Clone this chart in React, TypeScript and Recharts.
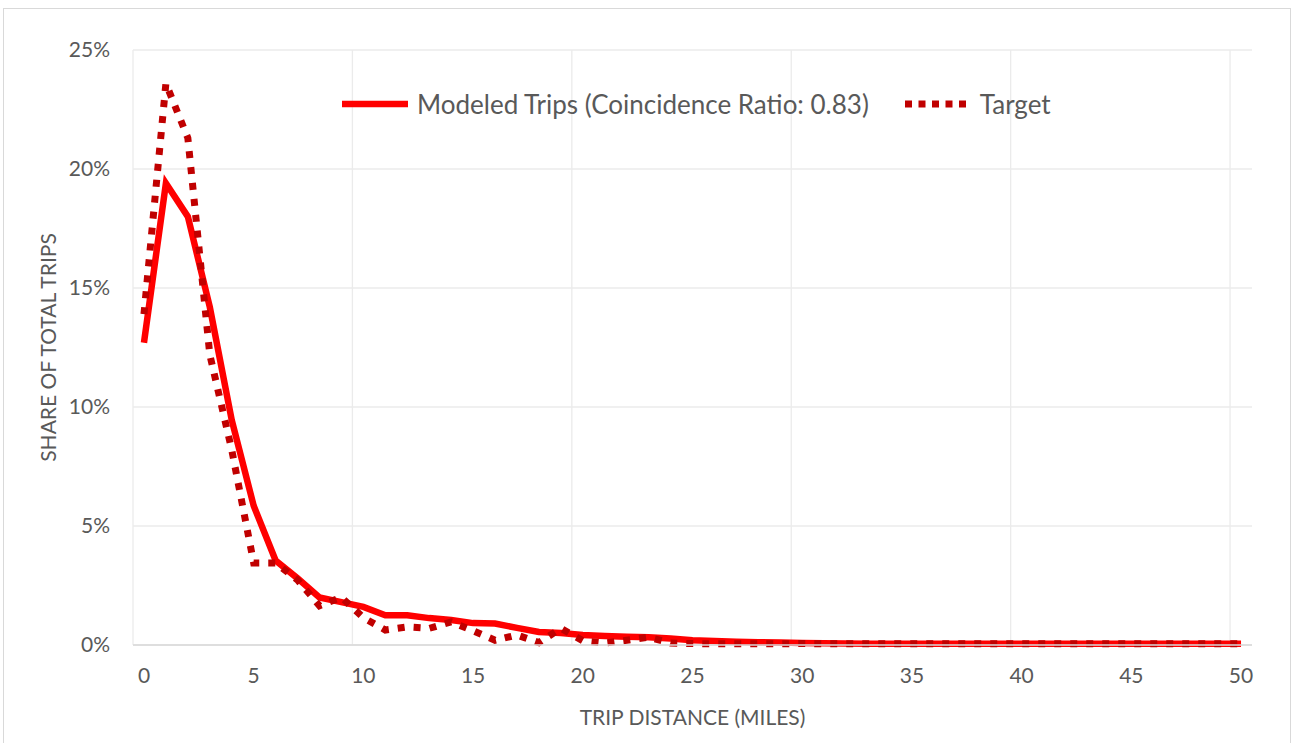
import { CartesianGrid, Line, LineChart, XAxis, YAxis } from "recharts";

const miles = [
  0, 1, 2, 3, 4, 5, 6, 7, 8, 9, 10, 11, 12, 13, 14, 15, 16, 17, 18, 19, 20, 21, 22, 23, 24, 25,
  26, 27, 28, 29, 30, 31, 32, 33, 34, 35, 36, 37, 38, 39, 40, 41, 42, 43, 44, 45, 46, 47, 48, 49, 50
];

// share of total trips, in percent
const modeledShare = [
  12.7, 19.4, 18.0, 14.2, 9.45, 5.85, 3.55, 2.8, 2.0, 1.8, 1.6, 1.25, 1.25, 1.13, 1.05, 0.92, 0.9,
  0.72, 0.55, 0.5, 0.42, 0.38, 0.35, 0.33, 0.27, 0.2, 0.17, 0.14, 0.12, 0.1, 0.08, 0.07, 0.06, 0.05,
  0.05, 0.05, 0.05, 0.05, 0.05, 0.05, 0.05, 0.05, 0.05, 0.05, 0.05, 0.05, 0.05, 0.05, 0.05, 0.05, 0.05
];

const targetShare = [
  13.9, 23.6, 21.3, 12.2, 8.2, 3.45, 3.45, 2.73, 1.65, 2.0, 1.15, 0.63, 0.76, 0.7, 0.97, 0.6, 0.2,
  0.42, 0.1, 0.7, 0.18, 0.08, 0.2, 0.33, 0.08, 0.06, 0.05, 0.05, 0.05, 0.05, 0.06, 0.05, 0.05, 0.05,
  0.05, 0.05, 0.05, 0.05, 0.05, 0.05, 0.05, 0.05, 0.05, 0.05, 0.05, 0.05, 0.05, 0.05, 0.05, 0.05, 0.05
];

const xTicks = [0, 5, 10, 15, 20, 25, 30, 35, 40, 45, 50];
const yTicks = [0, 5, 10, 15, 20, 25];
const gridMiles = [-0.5, 9.5, 19.5, 29.5, 39.5, 49.5];

const series = [
  { key: "modeled", name: "Modeled Trips (Coincidence Ratio: 0.83)", color: "#ff0000", width: 6.5, dash: undefined, legendDash: undefined },
  { key: "target", name: "Target", color: "#c00000", width: 7, dash: "7 9", legendDash: "7 6.5" }
];

const rows = miles.map((mile, i) => ({
  mile,
  modeled: modeledShare[i],
  target: targetShare[i]
}));

const FONT = "Lato, 'Open Sans', sans-serif";
const TEXT = "#595959";

function ChartLegend() {
  return (
    <div
      style={{
        position: "absolute",
        left: 338,
        top: 80,
        display: "flex",
        alignItems: "center",
        fontFamily: FONT,
        fontSize: 26,
        color: TEXT,
        lineHeight: "30px",
        whiteSpace: "nowrap"
      }}
    >
      {series.map((s, i) => (
        <div key={s.key} style={{ display: "flex", alignItems: "center", marginRight: i === 0 ? 36 : 0 }}>
          <svg width={66} height={10} style={{ marginRight: 9 }}>
            <line x1={0} y1={5} x2={66} y2={5} stroke={s.color} strokeWidth={s.width} strokeDasharray={s.legendDash} />
          </svg>
          <span>{s.name}</span>
        </div>
      ))}
    </div>
  );
}

export default function App() {
  return (
    <div
      style={{
        position: "absolute",
        left: 3,
        top: 8,
        width: 1286,
        height: 734,
        borderTop: "1px solid #d9d9d9",
        borderLeft: "1px solid #d9d9d9",
        borderRight: "1px solid #d9d9d9",
        background: "#fff"
      }}
    >
      <LineChart width={1286} height={734} data={rows} margin={{ top: 41, right: 38, left: 0, bottom: 0 }}>
        <CartesianGrid stroke="#ebebeb" strokeWidth={1.3} verticalValues={gridMiles} />
        <XAxis
          dataKey="mile"
          type="number"
          domain={[-0.5, 50.5]}
          ticks={xTicks}
          interval={0}
          height={98}
          tickLine={false}
          tickSize={6}
          tickMargin={17}
          axisLine={{ stroke: "#d9d9d9", strokeWidth: 1.3 }}
          tick={{ fill: TEXT, fontSize: 21, fontFamily: FONT }}
          label={{
            content: ({ viewBox }: any) => (
              <text
                x={viewBox.x + viewBox.width / 2}
                y={viewBox.y + 71}
                textAnchor="middle"
                dominantBaseline="central"
                fill={TEXT}
                fontSize={21}
                fontFamily={FONT}
              >
                TRIP DISTANCE (MILES)
              </text>
            )
          }}
        />
        <YAxis
          type="number"
          domain={[0, 25]}
          ticks={yTicks}
          width={129}
          tickLine={false}
          axisLine={false}
          tickSize={6}
          tickMargin={17}
          tickFormatter={(v: number) => `${v}%`}
          tick={{ fill: TEXT, fontSize: 21, fontFamily: FONT }}
          label={{
            content: ({ viewBox }: any) => {
              const cx = viewBox.x + 43;
              const cy = viewBox.y + viewBox.height / 2;
              return (
                <text
                  x={cx}
                  y={cy}
                  transform={`rotate(-90 ${cx} ${cy})`}
                  textAnchor="middle"
                  dominantBaseline="central"
                  fill={TEXT}
                  fontSize={21}
                  fontFamily={FONT}
                >
                  SHARE OF TOTAL TRIPS
                </text>
              );
            }
          }}
        />
        {series.map((s) => (
          <Line
            key={s.key}
            type="linear"
            dataKey={s.key}
            name={s.name}
            stroke={s.color}
            strokeWidth={s.width}
            strokeDasharray={s.dash}
            dot={false}
            activeDot={false}
            isAnimationActive={false}
          />
        ))}
      </LineChart>
      <ChartLegend />
    </div>
  );
}
